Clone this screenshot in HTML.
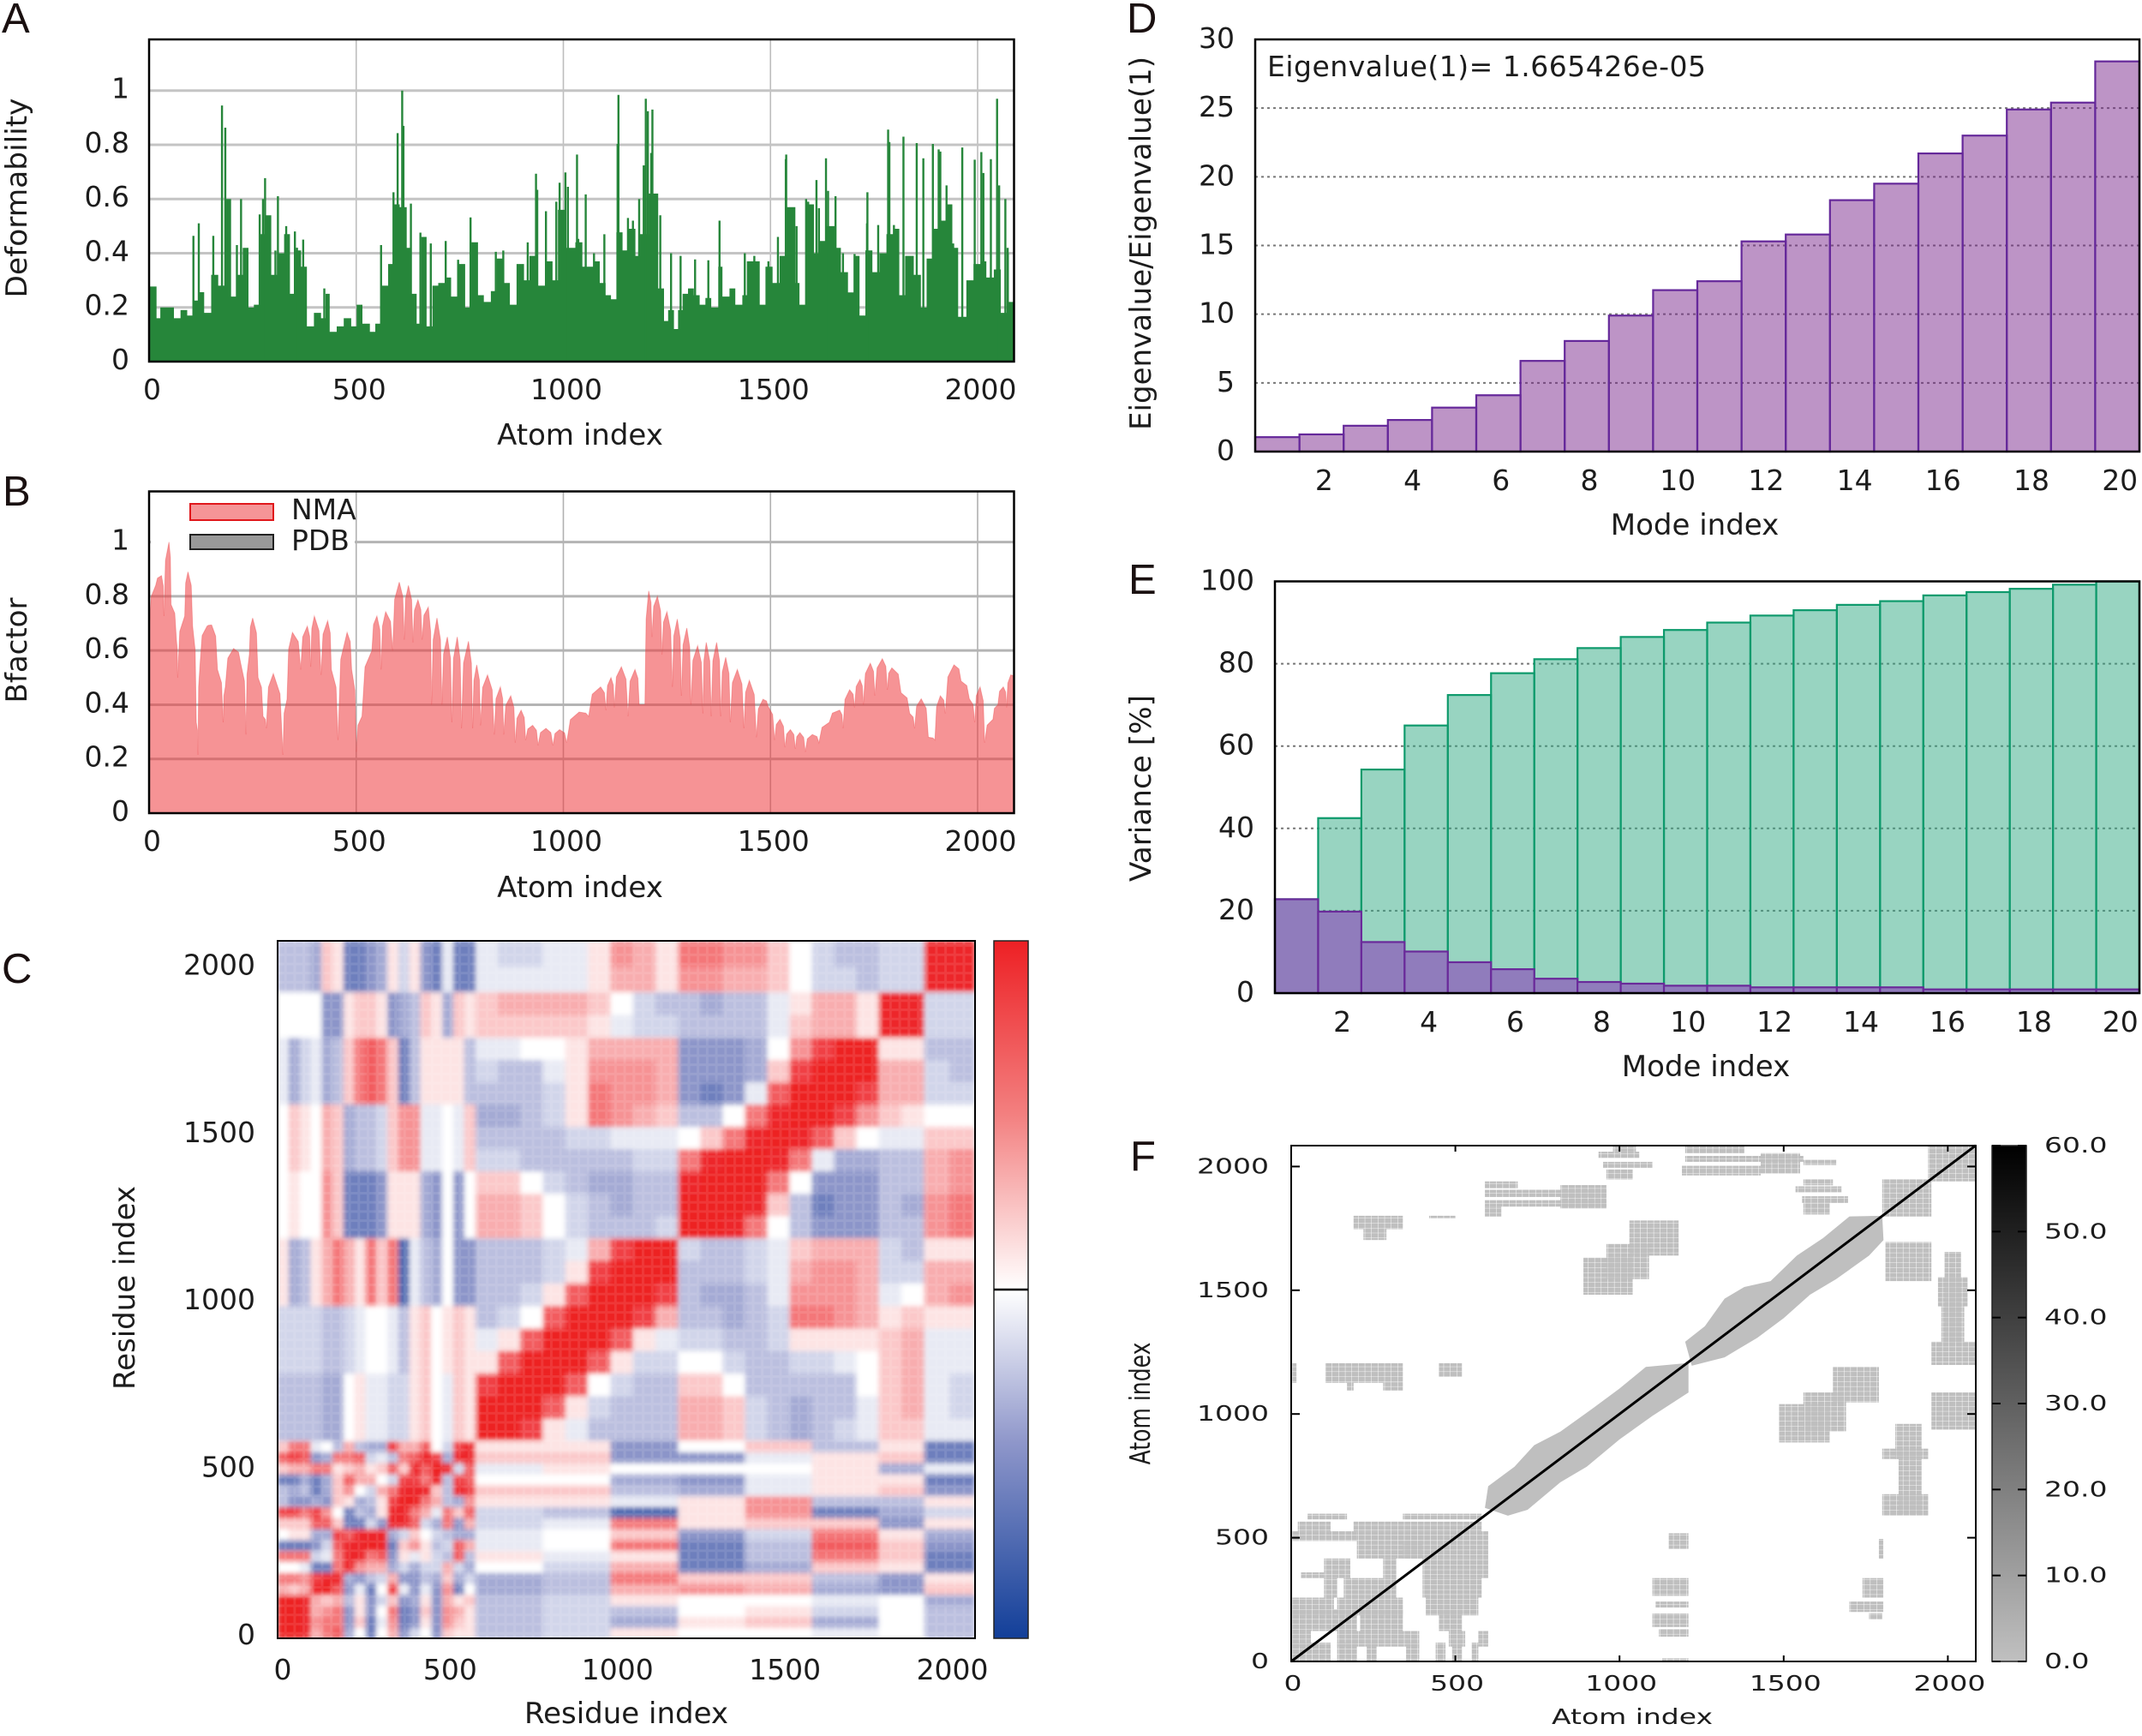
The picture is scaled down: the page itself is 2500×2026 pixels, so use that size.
<!DOCTYPE html>
<html lang="en">
<head>
<meta charset="utf-8">
<title>Normal mode analysis panels</title>
<style>
html,body{margin:0;padding:0;background:#fff;}
svg{display:block;}
text{font-family:"DejaVu Sans","Liberation Sans",sans-serif;font-size:33px;fill:#1c1c1c;}
.title{font-size:34px;}
.panel-letter{font-family:"Liberation Sans",sans-serif;font-size:49px;fill:#1a1010;}
</style>
</head>
<body>
<svg id="fig" xmlns="http://www.w3.org/2000/svg" width="2500" height="2026" viewBox="0 0 2500 2026">
  <defs>
    <filter id="soft" x="0" y="0" width="100%" height="100%"><feGaussianBlur stdDeviation="3" edgeMode="duplicate"/></filter>
    <clipPath id="clipC"><rect x="324" y="1098" width="814" height="814"/></clipPath>
    <pattern id="plaid" width="10.7" height="10.7" patternUnits="userSpaceOnUse">
      <rect width="10.7" height="10.7" fill="none"/>
      <rect x="0" y="0" width="3" height="10.7" fill="#fff"/>
      <rect x="0" y="0" width="10.7" height="3" fill="#fff"/>
    </pattern>
    <pattern id="dots" width="7.66" height="5.78" patternUnits="userSpaceOnUse">
      <rect x="0" y="0" width="7.2" height="5.4" fill="#bfbfbf"/>
    </pattern>
    <linearGradient id="cbarC" x1="0" y1="0" x2="0" y2="1">
      <stop offset="0" stop-color="#ed2024"/>
      <stop offset="0.25" stop-color="#f38080"/>
      <stop offset="0.5" stop-color="#ffffff"/>
      <stop offset="0.72" stop-color="#8e96ca"/>
      <stop offset="1" stop-color="#123f99"/>
    </linearGradient>
    <linearGradient id="cbarF" x1="0" y1="0" x2="0" y2="1">
      <stop offset="0" stop-color="#000000"/>
      <stop offset="1" stop-color="#c0c0c0"/>
    </linearGradient>
  </defs>
  <rect width="2500" height="2026" fill="#fff"/>

  <text class="panel-letter" x="2" y="38">A</text>
  <text class="panel-letter" x="3" y="590">B</text>
  <text class="panel-letter" x="2" y="1147">C</text>
  <text class="panel-letter" x="1315" y="38">D</text>
  <text class="panel-letter" x="1317" y="693">E</text>
  <text class="panel-letter" x="1319" y="1366">F</text>

  <g id="panelA"></g>
  <text class="title" x="677" y="519" text-anchor="middle">Atom index</text>
  <text class="title" transform="translate(31,231) rotate(-90)" text-anchor="middle" textLength="233" lengthAdjust="spacingAndGlyphs">Deformability</text>

  <g id="panelB"></g>
  <text class="title" x="677" y="1047" text-anchor="middle">Atom index</text>
  <text class="title" transform="translate(31,759) rotate(-90)" text-anchor="middle">Bfactor</text>

  <g id="panelC"></g>
  <text class="title" x="731" y="2011" text-anchor="middle">Residue index</text>
  <text class="title" transform="translate(157,1503) rotate(-90)" text-anchor="middle">Residue index</text>

  <g id="panelD"></g>
  <text x="1479" y="89" textLength="512">Eigenvalue(1)= 1.665426e-05</text>
  <text class="title" x="1978" y="624" text-anchor="middle">Mode index</text>
  <text class="title" transform="translate(1343,284) rotate(-90)" text-anchor="middle" textLength="436" lengthAdjust="spacingAndGlyphs">Eigenvalue/Eigenvalue(1)</text>

  <g id="panelE"></g>
  <text class="title" x="1991" y="1256" text-anchor="middle">Mode index</text>
  <text class="title" transform="translate(1343,920) rotate(-90)" text-anchor="middle" textLength="218" lengthAdjust="spacingAndGlyphs">Variance [%]</text>

  <g id="panelF"></g>
  <text transform="translate(1905,2012) scale(1,0.76)" text-anchor="middle">Atom index</text>
  <text transform="translate(1342,1638) scale(1,0.76) rotate(-90)" text-anchor="middle">Atom index</text>
</svg>

<script>
// ---------- Panel A data ----------
const atomTicks = [0, 500, 1000, 1500, 2000];
const atomTickLabels = ['0', '500', '1000', '1500', '2000'];
const unitTicks = [0, 0.2, 0.4, 0.6, 0.8, 1];
const unitTickLabels = ['0', '0.2', '0.4', '0.6', '0.8', '1'];
const deformStepAtoms = [2,18,27,43,60,76,92,105,119,133,150,167,183,198,212,226,240,253,267,281,295,309,326,340,353,367,381,398,415,426,436,453,470,488,501,515,533,546,560,577,591,605,622,632,646,657,670,684,698,715,729,746,763,777,794,808,825,839,856,871,887,905,918,936,956,974,987,1005,1029,1046,1060,1074,1088,1102,1115,1128,1143,1157,1174,1184,1206,1229,1243,1253,1267,1277,1288,1301,1315,1329,1343,1357,1374,1384,1401,1415,1432,1443,1460,1474,1488,1505,1522,1539,1560,1570,1587,1605,1618,1636,1656,1670,1687,1701,1715,1729,1746,1763,1780,1798,1811,1825,1846,1863,1877,1894,1908,1925,1939,1953,1973,1990,2008,2021,2039,2056,2070,2075];
const deformStepValues = [0.277,0.16,0.2,0.2,0.16,0.19,0.17,0.225,0.256,0.18,0.32,0.28,0.6,0.24,0.32,0.42,0.2,0.21,0.47,0.54,0.32,0.4,0.47,0.25,0.41,0.35,0.13,0.18,0.16,0.25,0.11,0.13,0.16,0.13,0.21,0.14,0.11,0.14,0.28,0.36,0.58,0.57,0.42,0.25,0.14,0.46,0.13,0.28,0.29,0.31,0.24,0.36,0.2,0.44,0.245,0.22,0.26,0.38,0.29,0.21,0.36,0.3,0.39,0.28,0.37,0.3,0.56,0.42,0.44,0.35,0.35,0.37,0.29,0.245,0.23,0.477,0.41,0.49,0.39,0.47,0.62,0.27,0.15,0.19,0.12,0.19,0.25,0.27,0.245,0.21,0.235,0.2,0.35,0.24,0.27,0.21,0.245,0.37,0.37,0.21,0.35,0.29,0.39,0.57,0.29,0.21,0.58,0.4,0.445,0.5,0.42,0.33,0.255,0.39,0.17,0.41,0.33,0.4,0.47,0.49,0.245,0.39,0.32,0.2,0.38,0.49,0.52,0.58,0.42,0.165,0.3,0.36,0.37,0.31,0.34,0.18,0.42,0.22];
const deformSpikeAtoms = [176,184,107,120,155,222,212,267,280,275,311,305,331,352,372,357,423,560,590,600,611,614,632,655,680,716,746,776,837,855,914,934,937,958,983,991,1005,1011,1033,1036,1054,1074,1099,1131,1133,1156,1168,1183,1194,1199,1204,1215,1212,1234,1260,1283,1318,1350,1377,1438,1461,1495,1518,1537,1538,1563,1586,1591,1611,1617,1634,1639,1657,1675,1703,1734,1733,1760,1784,1787,1798,1821,1853,1869,1892,1906,1910,1925,1941,1963,1993,2009,2014,2032,2047,2052,2067,2073];
const deformSpikeValues = [0.945,0.863,0.464,0.51,0.464,0.6,0.43,0.543,0.677,0.6,0.61,0.41,0.5,0.48,0.45,0.42,0.27,0.43,0.625,0.843,1.0,0.87,0.583,0.476,0.436,0.445,0.376,0.532,0.405,0.41,0.44,0.693,0.634,0.555,0.59,0.66,0.698,0.645,0.764,0.453,0.617,0.4,0.47,0.803,0.984,0.53,0.52,0.6,0.724,0.97,0.924,0.93,0.77,0.54,0.4,0.39,0.377,0.374,0.52,0.4,0.39,0.37,0.46,0.747,0.764,0.5,0.6,0.59,0.67,0.566,0.75,0.63,0.61,0.4,0.397,0.625,0.51,0.504,0.856,0.81,0.504,0.83,0.806,0.75,0.803,0.783,0.775,0.65,0.436,0.79,0.745,0.773,0.696,0.747,0.97,0.65,0.6,0.4];

// ---------- Panel B data ----------
const bfactorAtoms = [0,16,30,36,48,53,66,69,86,94,105,114,118,123,140,151,165,179,184,204,221,234,242,250,263,275,283,300,323,333,346,366,382,390,399,415,431,440,456,478,489,500,514,538,550,560,571,588,604,616,626,637,649,659,674,682,695,707,720,731,744,754,771,781,791,800,817,833,848,856,873,884,898,909,926,939,958,975,991,1008,1038,1061,1090,1103,1115,1123,1140,1156,1173,1183,1197,1206,1214,1227,1238,1250,1263,1275,1285,1298,1308,1324,1337,1345,1357,1370,1380,1392,1403,1420,1436,1449,1466,1482,1494,1510,1523,1535,1548,1560,1571,1584,1601,1617,1642,1667,1675,1691,1703,1716,1724,1741,1752,1770,1782,1793,1815,1836,1848,1864,1881,1897,1910,1922,1943,1960,1980,1993,2006,2017,2037,2049,2062,2070,2080,2088];
const bfactorValues = [0.67,0.84,0.876,0.727,1.0,0.77,0.64,0.5,0.727,0.89,0.69,0.335,0.215,0.55,0.69,0.694,0.53,0.335,0.466,0.607,0.553,0.29,0.585,0.72,0.5,0.357,0.313,0.515,0.215,0.42,0.667,0.53,0.69,0.54,0.727,0.51,0.71,0.53,0.27,0.667,0.53,0.226,0.357,0.6,0.727,0.53,0.743,0.6,0.852,0.64,0.84,0.63,0.787,0.64,0.76,0.4,0.72,0.4,0.65,0.335,0.65,0.313,0.634,0.313,0.547,0.324,0.51,0.29,0.466,0.29,0.433,0.26,0.38,0.27,0.324,0.25,0.313,0.25,0.308,0.26,0.373,0.357,0.466,0.38,0.5,0.39,0.54,0.357,0.53,0.4,0.4,0.82,0.65,0.8,0.585,0.743,0.466,0.716,0.433,0.683,0.4,0.618,0.368,0.63,0.357,0.63,0.357,0.575,0.335,0.53,0.313,0.49,0.28,0.42,0.395,0.27,0.346,0.243,0.308,0.237,0.297,0.226,0.29,0.26,0.335,0.38,0.313,0.455,0.39,0.493,0.4,0.553,0.433,0.57,0.455,0.536,0.444,0.368,0.313,0.422,0.28,0.27,0.433,0.368,0.547,0.487,0.422,0.335,0.466,0.26,0.346,0.4,0.466,0.39,0.51,0.5];

// ---------- Panel C data ----------
const residueTicks = [0, 500, 1000, 1500, 2000];
const residueTickLabels = ['0', '500', '1000', '1500', '2000'];
const domainAEnd = [590];
const domainEdges = [590, 1196, 1795, 1931, 2083];
const domainBins = [9, 9, 2, 2];
const outerColumnEdges = [590, 792, 994, 1196, 1396, 1596, 1795, 1931, 2083];
// Values from -9 (deep blue) to 9 (deep red). Rows run bottom to top.
// First-domain block, read cell by cell (18 x 18).
const firstDomainBlock = [
 [9,9,8,3,5,6,-4,0,-6,0,3,-5,-2,0,-5,2,1,1],
 [9,9,8,4,5,5,-5,2,-6,-1,4,-6,-5,1,-5,4,2,1],
 [9,9,8,3,4,5,-5,1,-5,0,5,-6,-5,2,-5,4,3,1],
 [9,9,8,3,2,3,-3,1,-5,-2,2,-5,-4,1,-5,3,1,2],
 [3,2,3,8,9,6,-5,-1,-6,0,7,-1,-5,-1,-5,4,-6,0],
 [5,5,4,7,8,8,-4,-5,-3,-2,3,-5,-5,-3,-4,2,-4,-2],
 [0,0,-1,-6,-6,5,8,4,3,3,-4,-2,-4,-2,-2,3,-2,-4],
 [5,5,5,-2,-1,5,8,8,5,6,-5,1,-1,1,-2,-3,6,-3],
 [-6,-6,-6,-5,-2,6,8,8,9,8,-6,2,4,1,-3,-2,6,3],
 [0,1,1,-4,-4,7,6,8,8,8,-4,-2,2,0,-2,-3,-4,-4],
 [2,2,2,6,6,2,-6,-6,-2,-5,8,8,6,-2,-4,5,-5,3],
 [7,7,5,7,4,0,-6,-3,-4,1,8,8,5,3,-1,5,2,6],
 [-3,-5,-5,-4,-5,2,1,-4,-3,1,7,9,9,5,3,-3,-4,4],
 [-3,-4,-3,-6,-4,2,4,0,-2,3,5,8,8,8,2,-3,8,7],
 [-6,-6,-4,-6,-4,2,6,3,3,0,-2,7,7,5,8,-3,7,6],
 [2,3,3,5,5,1,2,3,1,2,6,2,8,6,9,8,-2,6],
 [6,7,6,-5,-4,5,5,6,-2,-1,-3,5,6,8,7,-4,8,8],
 [2,5,5,-1,0,-3,3,-3,-4,-4,7,3,3,6,0,-2,7,8]
];
// First-domain rows against the remaining domains (mirrored across the diagonal).
const firstDomainOuter = [
 [-3,-2,1,0,0,-1,0,-3],
 [-3,-2,-4,1,2,-4,0,-3],
 [-3,-2,-3,0,1,-2,0,-3],
 [-3,-2,1,0,0,-1,0,-4],
 [-4,-3,3,4,3,-4,-5,2],
 [-4,-3,5,2,2,-3,-5,1],
 [0,-2,3,-6,-4,2,1,-6],
 [1,-1,1,-6,-3,5,2,-6],
 [-1,0,5,-6,-3,6,2,-5],
 [-1,0,2,-5,-2,5,1,-4],
 [-2,-1,5,1,2,2,-5,1],
 [-2,-3,-7,1,4,-6,-4,-2],
 [1,1,-1,1,4,-3,-3,1],
 [2,2,-3,-4,-1,1,2,-5],
 [0,0,-4,-5,-1,1,1,-6],
 [-1,1,0,0,0,1,-4,-1],
 [2,2,-5,-5,-1,1,2,-6],
 [1,1,-5,0,2,-3,1,-6]
];
// Lower triangle of the remaining symmetric domains.
const correlationLower = [
 [9],
 [9,9],
 [7,9,9],
 [1,6,9,9],
 [-1,1,6,9,9],
 [-3,-2,0,6,9,9],
 [-3,-3,-2,1,6,9,9],
 [-3,-3,-3,-2,1,7,9,9],
 [-3,-3,-3,-2,-1,3,7,9,9],
 [3,3,2,0,-2,-3,-3,-3,-2,9],
 [3,3,2,0,-2,-3,-4,-3,-3,9,9],
 [2,2,0,-2,-3,-4,-4,-3,-3,8,9,9],
 [-2,-2,-3,-3,-3,-3,-3,-2,-2,5,8,9,9],
 [-3,-3,-3,-3,-2,-2,-1,-1,-1,0,2,5,8,9],
 [-4,-4,-3,-2,1,5,4,3,2,-3,-3,0,5,8,9],
 [-3,-3,-3,-2,1,5,4,4,3,-5,-6,-5,-1,6,9,9],
 [-2,-3,-3,-1,1,4,4,4,3,-5,-5,-5,-4,2,7,9,9],
 [-1,-1,0,0,1,3,3,3,3,-5,-5,-5,-4,0,4,7,9,9],
 [2,2,2,2,2,1,-1,-2,-2,-3,-3,-3,-3,-1,2,3,3,1,8],
 [2,3,3,3,3,2,0,-2,-3,-3,-4,-3,-3,-1,1,3,3,1,8,8],
 [-1,-1,-1,-1,-1,1,3,3,1,4,4,3,3,2,0,-2,-2,-3,-2,-2,8],
 [-1,-2,-2,-1,-1,1,4,3,1,5,5,4,4,2,0,-2,-3,-3,-2,-2,8,8]
];

// ---------- Panel D data ----------
const modeTicks = [2,4,6,8,10,12,14,16,18,20];
const modeTickLabels = ['2','4','6','8','10','12','14','16','18','20'];
const eigenTicks = [0,5,10,15,20,25,30];
const eigenTickLabels = ['0','5','10','15','20','25','30'];
const eigenRatios = [1.05,1.25,1.88,2.3,3.2,4.1,6.6,8.05,9.9,11.75,12.4,15.3,15.8,18.3,19.5,21.7,23.0,24.9,25.4,28.4];

// ---------- Panel E data ----------
const varianceTicks = [0,20,40,60,80,100];
const varianceTickLabels = ['0','20','40','60','80','100'];
const cumulativeVariance = [22.8,42.5,54.3,65,72.4,77.7,81.1,83.8,86.5,88.2,90,91.7,93,94.3,95.2,96.6,97.4,98.2,99.2,100];
const individualVariance = [22.8,19.8,12.4,10.1,7.5,5.8,3.5,2.7,2.3,1.8,1.8,1.4,1.4,1.4,1.4,0.9,0.9,0.9,0.9,0.9];

// ---------- Panel F data ----------
const contactTicks = [0,500,1000,1500,2000];
const contactTickLabels = ['0','500','1000','1500','2000'];
const distanceTicks = [0,10,20,30,40,50,60];
const distanceTickLabels = ['0.0','10.0','20.0','30.0','40.0','50.0','60.0'];
const diagonalEnds = [0, 2085];
const bandOneUpperX = [590,600,680,740,820,920,1000,1080,1200];
const bandOneUpperY = [621,708,787,874,929,1024,1103,1190,1205];
const bandOneLowerX = [1210,1210,1100,1000,900,820,720,660];
const bandOneLowerY = [1205,1087,992,897,787,724,613,589];
const bandTwoUpperX = [1200,1260,1320,1380,1460,1540,1620,1700,1800];
const bandTwoUpperY = [1292,1355,1466,1513,1537,1640,1711,1798,1801];
const bandTwoLowerX = [1804,1760,1660,1580,1500,1420,1320,1220];
const bandTwoLowerY = [1703,1640,1545,1482,1387,1308,1229,1195];
const contactX0 = [980,936,950,960,1200,1200,1430,1190,1560,1560,1536,1556,1560,590,590,590,820,590,190,220,420,890,960,1030,1800,1940,1810,1970,1980,1990,1950,0,104,170,280,450,1486,1560,1650,1840,1800,1850,1800,1950,50,340,20,190,0,200,200,340,30,100,280,400,100,160,400,0,140,410,0,210,450,0,140,480,570,0,140,230,350,440,490,550,1100,1110,1100,1120,1130,1150,1740,1700,1760,1790];
const contactX1 = [1050,1060,1100,1040,1380,1560,1550,1430,1660,1650,1676,1696,1640,690,960,960,960,640,340,290,500,1040,1090,1180,1950,2084,1950,2060,2050,2040,2084,16,340,190,340,520,1640,1690,1790,1920,1940,1920,1940,2084,170,580,120,580,200,600,400,600,100,180,320,600,140,320,580,130,340,570,200,340,520,60,390,530,600,120,200,260,390,470,520,570,1210,1210,1210,1210,1210,1210,1804,1804,1800,1804];
const contactY0 = [2060,2035,1995,1948,2054,2019,1972,1964,2006,1924,1896,1853,1806,1912,1877,1838,1830,1798,1747,1703,1790,1482,1545,1640,1798,1940,1537,1435,1290,1292,1198,1126,1126,1095,1095,1150,885,929,1047,818,818,597,589,937,574,574,526,526,487,487,416,416,337,337,337,337,258,258,258,186,186,186,123,123,123,60,60,60,60,0,0,0,0,0,0,0,265,218,139,100,0,455,258,200,170,416];
const contactY1 = [2084,2060,2019,1988,2084,2043,2054,2003,2027,1948,1920,1880,1853,1940,1906,1864,1925,1838,1801,1747,1801,1632,1687,1782,1948,2084,1695,1553,1435,1655,1292,1205,1205,1126,1126,1205,1040,1087,1190,960,860,818,676,1087,597,597,565,565,526,526,487,487,360,416,416,416,337,337,337,258,258,258,210,210,210,123,123,123,123,76,76,76,76,76,76,76,337,242,194,131,13,518,337,242,195,495];

// ---------- helpers ----------
const NS = 'http://www.w3.org/2000/svg';
function mk(tag, attrs, parent) {
  const el = document.createElementNS(NS, tag);
  for (const k in attrs) el.setAttribute(k, attrs[k]);
  parent.appendChild(el);
  return el;
}
function tickLabel(parent, txt, x, y, anchor, transform) {
  const attrs = {'text-anchor': anchor};
  if (transform) attrs.transform = transform; else { attrs.x = x; attrs.y = y; }
  const el = mk('text', attrs, parent);
  el.textContent = txt;
  
  
  return el;
}
function gridLine(parent, x1, y1, x2, y2, stroke, width, dash) {
  const el = mk('line', {x1, y1, x2, y2, stroke, 'stroke-width': width}, parent);
  if (dash) el.setAttribute('stroke-dasharray', dash);
  
  
  return el;
}
function tickMark(parent, x1, y1, x2, y2, stroke, width) {
  const el = mk('line', {x1, y1, x2, y2, stroke: stroke || '#000', 'stroke-width': width || 2}, parent);
  
  
  return el;
}
function frame(parent, x, y, w, h, width) {
  const el = mk('rect', {x, y, width: w, height: h, fill: 'none', stroke: '#000', 'stroke-width': width}, parent);
  
  
  return el;
}

// ---------- Panel A ----------
(function () {
  const g = document.getElementById('panelA');
  const L = 174, R = 1183.5, T = 46, B = 422;
  const xA = v => L + v * 0.4835;
  const yA = v => B - v * 316.3;
  atomTicks.forEach(t => { if (t > 0) gridLine(g, xA(t), T, xA(t), B, '#bdbdbd', 1.6); });
  unitTicks.forEach(t => { if (t > 0) gridLine(g, L, yA(t), R, yA(t), '#c4c4c4', 3); });
  let d = 'M' + L + ' ' + yA(0);
  deformStepAtoms.forEach((a, i) => {
    const next = i + 1 < deformStepAtoms.length ? xA(deformStepAtoms[i + 1]) : R;
    const x0 = i === 0 ? L : xA(a);
    d += 'L' + x0.toFixed(1) + ' ' + yA(deformStepValues[i]).toFixed(1) + 'L' + next.toFixed(1) + ' ' + yA(deformStepValues[i]).toFixed(1);
  });
  d += 'L' + R + ' ' + yA(0) + 'Z';
  const area = mk('path', {d, fill: '#26863a'}, g);
  
  
  deformSpikeAtoms.forEach((a, i) => {
    const s = mk('line', {x1: xA(a), x2: xA(a), y1: yA(0), y2: yA(deformSpikeValues[i]), stroke: '#26863a', 'stroke-width': 2.4}, g);
    
    
  });
  frame(g, L, T, R - L, B - T, 2.5);
  atomTicks.forEach((t, i) => tickLabel(g, atomTickLabels[i], xA(t) + 3.5, 466, 'middle'));
  unitTicks.forEach((t, i) => tickLabel(g, unitTickLabels[i], 151, yA(t) + 9, 'end'));
})();

// ---------- Panel B ----------
(function () {
  const g = document.getElementById('panelB');
  const L = 174, R = 1183.5, T = 573.5, B = 949;
  const xB = v => L + v * 0.4835;
  const yB = v => B - v * 316.4;
  atomTicks.forEach(t => { if (t > 0) gridLine(g, xB(t), T, xB(t), B, '#b0b0b0', 1.6); });
  unitTicks.forEach(t => { if (t > 0) gridLine(g, L, yB(t), R, yB(t), '#b4b4b4', 3); });
  const keyBack = mk('rect', {x: 176, y: 575, width: 238, height: 70, fill: '#fff'}, g);
  
  
  let d = 'M' + xB(0) + ' ' + yB(0);
  bfactorAtoms.forEach((a, i) => {
    const v = bfactorValues[i];
    if (i > 0) {
      const pa = bfactorAtoms[i - 1], pv = bfactorValues[i - 1];
      const midA = v < pv ? pa + 0.7 * (a - pa) : pa + 0.3 * (a - pa);
      const midV = v < pv ? pv - 0.25 * (pv - v) : v - 0.25 * (v - pv);
      d += 'L' + xB(midA).toFixed(1) + ' ' + yB(midV).toFixed(1);
    }
    d += 'L' + xB(a).toFixed(1) + ' ' + yB(v).toFixed(1);
  });
  d += 'L' + xB(2088) + ' ' + yB(0) + 'Z';
  const area = mk('path', {d, fill: '#ee3b3e', 'fill-opacity': 0.55, stroke: '#ea3c40', 'stroke-opacity': 0.35, 'stroke-width': 1}, g);
  
  
  frame(g, L, T, R - L, B - T, 2.5);
  const k1 = mk('rect', {x: 222, y: 588, width: 97, height: 19, fill: '#f59597', stroke: '#e0181c', 'stroke-width': 2}, g);
  
  
  const k2 = mk('rect', {x: 222, y: 624, width: 97, height: 17, fill: '#999', stroke: '#222', 'stroke-width': 2}, g);
  
  
  const t1 = mk('text', {x: 340, y: 606}, g);
  t1.textContent = 'NMA';
  
  
  const t2 = mk('text', {x: 340, y: 642}, g);
  t2.textContent = 'PDB';
  
  
  atomTicks.forEach((t, i) => tickLabel(g, atomTickLabels[i], xB(t) + 3.5, 993, 'middle'));
  unitTicks.forEach((t, i) => tickLabel(g, unitTickLabels[i], 151, yB(t) + 9, 'end'));
})();

// ---------- Panel C ----------
(function () {
  const g = document.getElementById('panelC');
  const L = 324, T = 1098, S = 814, B = T + S;
  const xC = v => L + v * S / 2083;
  const yC = v => B - v * S / 2083;
  const edges = [];
  domainBins.forEach((n, d) => {
    for (let i = 0; i < n; i++) edges.push(domainEdges[d] + (domainEdges[d + 1] - domainEdges[d]) * i / n);
  });
  edges.push(domainEdges[domainEdges.length - 1]);
  const lerp = (a, b, t) => a.map((c, i) => Math.round(c + (b[i] - c) * t));
  function colorOf(v) {
    const t = Math.min(1, Math.abs(v) / 9);
    let c;
    if (v >= 0) c = lerp([255, 255, 255], [237, 32, 36], Math.min(1, t * 1.1));
    else if (t < 0.55) c = lerp([255, 255, 255], [142, 150, 202], t / 0.55);
    else c = lerp([142, 150, 202], [18, 63, 153], (t - 0.55) / 0.45);
    return 'rgb(' + c.join(',') + ')';
  }
  function cell(parent, x0, x1, y0, y1, v) {
    const el = mk('rect', {x: xC(x0), y: yC(y1), width: xC(x1) - xC(x0) + 0.6, height: yC(y0) - yC(y1) + 0.6, fill: colorOf(v)}, parent);
    
    
    return el;
  }
  const clip = mk('g', {'clip-path': 'url(#clipC)'}, g);
  
  
  const cells = mk('g', {filter: 'url(#soft)'}, clip);
  for (let r = 0; r < correlationLower.length; r++) {
    for (let c = 0; c <= r; c++) {
      const v = correlationLower[r][c];
      cell(cells, edges[c], edges[c + 1], edges[r], edges[r + 1], v);
      if (c !== r) cell(cells, edges[r], edges[r + 1], edges[c], edges[c + 1], v);
    }
  }
  const aStep = domainAEnd[0] / firstDomainBlock.length;
  firstDomainBlock.forEach((row, r) => {
    row.forEach((v, c) => {
      cell(cells, c * aStep, (c + 1) * aStep, r * aStep, (r + 1) * aStep, v);
    });
  });
  firstDomainOuter.forEach((row, r) => {
    row.forEach((v, c) => {
      cell(cells, outerColumnEdges[c], outerColumnEdges[c + 1], r * aStep, (r + 1) * aStep, v);
      cell(cells, r * aStep, (r + 1) * aStep, outerColumnEdges[c], outerColumnEdges[c + 1], v);
    });
  });
  const texture = mk('rect', {x: L, y: T, width: S, height: S, fill: 'url(#plaid)', opacity: 0.1}, clip);
  
  
  frame(g, L, T, S, S, 2);
  residueTicks.forEach((t, i) => tickLabel(g, residueTickLabels[i], xC(t) + 6, 1960, 'middle'));
  residueTicks.forEach((t, i) => tickLabel(g, residueTickLabels[i], 298, yC(t) + 7, 'end'));
  const bar = mk('rect', {x: 1160, y: T, width: 40, height: S, fill: 'url(#cbarC)', stroke: '#222', 'stroke-width': 1.5}, g);
  
  
  const mid = mk('line', {x1: 1160, x2: 1200, y1: T + S / 2, y2: T + S / 2, stroke: '#000', 'stroke-width': 2.5}, g);
  
  
})();

// ---------- Panel D ----------
(function () {
  const g = document.getElementById('panelD');
  const L = 1465, R = 2497, T = 46, B = 527;
  const xD = v => L + (v - 0.5) * (R - L) / 20;
  const yD = v => B - v * (B - T) / 30;
  eigenTicks.forEach(t => { if (t > 0 && t < 30) gridLine(g, L, yD(t), R, yD(t), '#777', 2, '3 4'); });
  eigenRatios.forEach((v, i) => {
    const b = mk('rect', {x: xD(i + 0.5), y: yD(v), width: xD(i + 1.5) - xD(i + 0.5), height: yD(0) - yD(v), fill: '#79258b', 'fill-opacity': 0.49, stroke: '#65289a', 'stroke-width': 2.2}, g);
    
    
  });
  frame(g, L, T, R - L, B - T, 2.5);
  modeTicks.forEach((t, i) => tickLabel(g, modeTickLabels[i], xD(t) + 3, 572, 'middle'));
  eigenTicks.forEach((t, i) => tickLabel(g, eigenTickLabels[i], 1441, yD(t) + 10, 'end'));
})();

// ---------- Panel E ----------
(function () {
  const g = document.getElementById('panelE');
  const L = 1488, R = 2497, T = 678.5, B = 1159;
  const xE = v => L + (v - 0.5) * (R - L) / 20;
  const yE = v => B - v * (B - T) / 100;
  varianceTicks.forEach(t => { if (t > 0 && t < 100) gridLine(g, L, yE(t), R, yE(t), '#777', 2, '3 4'); });
  cumulativeVariance.forEach((v, i) => {
    const b = mk('rect', {x: xE(i + 0.5), y: yE(v), width: xE(i + 1.5) - xE(i + 0.5), height: yE(0) - yE(v), fill: '#31a983', 'fill-opacity': 0.5, stroke: '#0e9a6c', 'stroke-width': 2.2}, g);
    
    
  });
  individualVariance.forEach((v, i) => {
    const b = mk('rect', {x: xE(i + 0.5), y: yE(v), width: xE(i + 1.5) - xE(i + 0.5), height: yE(0) - yE(v), fill: '#907cbc', stroke: '#6a2a9a', 'stroke-width': 2.2}, g);
    
    
  });
  frame(g, L, T, R - L, B - T, 2.5);
  modeTicks.forEach((t, i) => tickLabel(g, modeTickLabels[i], xE(t) + 3, 1204, 'middle'));
  varianceTicks.forEach((t, i) => tickLabel(g, varianceTickLabels[i], 1464, yE(t) + 10, 'end'));
})();

// ---------- Panel F ----------
(function () {
  const g = document.getElementById('panelF');
  const L = 1507, R = 2306, T = 1337, B = 1939;
  const xF = v => L + v * 0.3832;
  const yF = v => B - v * 0.2888;
  const GREY = '#bfbfbf';
  contactX0.forEach((x0, i) => {
    const r = mk('rect', {x: xF(x0), y: yF(contactY1[i]), width: xF(contactX1[i]) - xF(x0), height: yF(contactY0[i]) - yF(contactY1[i]), fill: 'url(#dots)'}, g);
    
    
  });
  function band(ux, uy, lx, ly) {
    const pts = [];
    ux.forEach((x, i) => pts.push(xF(x).toFixed(1) + ',' + yF(uy[i]).toFixed(1)));
    lx.forEach((x, i) => pts.push(xF(x).toFixed(1) + ',' + yF(ly[i]).toFixed(1)));
    const p = mk('polygon', {points: pts.join(' '), fill: GREY}, g);
    
    
  }
  band(bandOneUpperX, bandOneUpperY, bandOneLowerX, bandOneLowerY);
  band(bandTwoUpperX, bandTwoUpperY, bandTwoLowerX, bandTwoLowerY);
  const diag = mk('line', {x1: xF(diagonalEnds[0]), y1: yF(diagonalEnds[0]), x2: xF(diagonalEnds[1]), y2: yF(diagonalEnds[1]), stroke: '#000', 'stroke-width': 3}, g);
  
  
  frame(g, L, T, R - L, B - T, 2);
  contactTicks.forEach(t => {
    if (t > 0) {
      tickMark(g, xF(t), B, xF(t), B - 7);
      tickMark(g, xF(t), T, xF(t), T + 7);
      tickMark(g, L, yF(t), L + 10, yF(t));
      tickMark(g, R, yF(t), R - 10, yF(t));
    }
  });
  contactTicks.forEach((t, i) => tickLabel(g, contactTickLabels[i], 0, 0, 'middle', 'translate(' + (xF(t) + 2) + ',1973) scale(1,0.76)'));
  contactTicks.forEach((t, i) => tickLabel(g, contactTickLabels[i], 0, 0, 'end', 'translate(1481,' + (yF(t) + 8) + ') scale(1,0.76)'));
  const cb = mk('rect', {x: 2325, y: T, width: 40, height: B - T, fill: 'url(#cbarF)', stroke: '#222', 'stroke-width': 1.5}, g);
  
  
  const yCb = v => B - v * (B - T) / 60;
  distanceTicks.forEach((t, i) => {
    tickMark(g, 2325, yCb(t), 2335, yCb(t));
    tickMark(g, 2365, yCb(t), 2355, yCb(t));
    tickLabel(g, distanceTickLabels[i], 0, 0, 'start', 'translate(2386,' + (yCb(t) + 8) + ') scale(1,0.76)');
  });
})();
</script>
</body>
</html>
